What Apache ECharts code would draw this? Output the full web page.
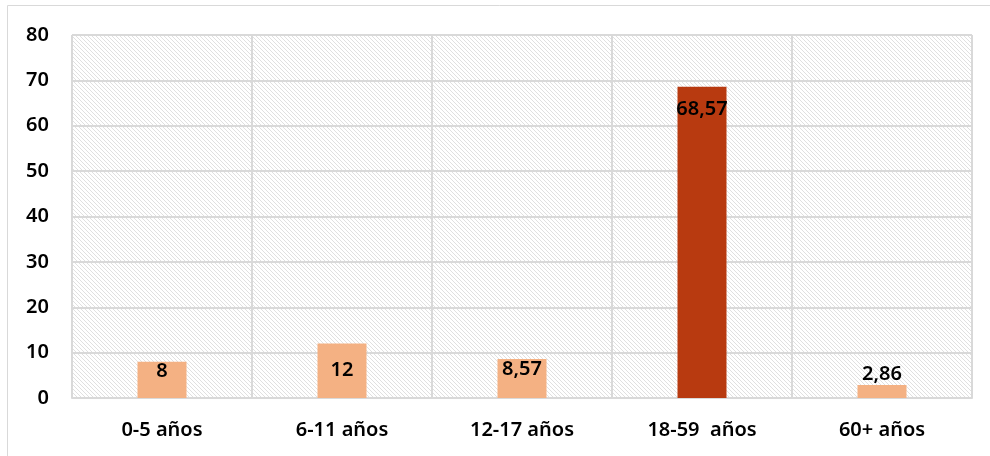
<!DOCTYPE html>
<html>
<head>
<meta charset="utf-8">
<script src="https://cdn.jsdelivr.net/npm/echarts@6/dist/echarts.min.js"></script>
<style>
  html, body { margin: 0; padding: 0; background: #fff; }
  #chart { width: 990px; height: 456px; }
</style>
</head>
<body>
<div id="chart"></div>
<script>
// datos
const categories = ["0-5 años", "6-11 años", "12-17 años", "18-59  años", "60+ años"];
const values = [8, 12, 8.57, 68.57, 2.86];
const yTicks = [0, 10, 20, 30, 40, 50, 60, 70, 80];

// fondo rayado del área de trazado
function hatch() {
  const c = document.createElement("canvas");
  c.width = 4;
  c.height = 4;
  const ctx = c.getContext("2d");
  ctx.fillStyle = "#fff";
  ctx.fillRect(0, 0, 4, 4);
  ctx.fillStyle = "#e0e0e0";
  for (let i = 0; i < 4; i++) ctx.fillRect(i, i, 1, 1);
  return c;
}

const fmt = (v) => String(v).replace(".", ",");

const labelFor = (i) => {
  const base = { show: true, color: "#000", fontSize: 20, fontWeight: 600, fontFamily: "Noto Sans", formatter: (p) => fmt(p.value) };
  if (i === 1) return Object.assign(base, { position: "inside" });
  if (i === 3) return Object.assign(base, { position: "insideTop", distance: 12 });
  if (i === 4) return Object.assign(base, { position: "top", distance: 1 });
  return Object.assign(base, { position: "insideTop", distance: 0 });
};

const myChart = echarts.init(document.getElementById("chart"));
const option = {
  animation: false,
  graphic: [
    {
      type: "rect",
      shape: { x: 7.5, y: 5.5, width: 990, height: 460 },
      style: { fill: "none", stroke: "#d9d9d9", lineWidth: 1 },
      silent: true,
    },
  ],
  grid: {
    left: 72,
    right: 18,
    top: 35,
    bottom: 58,
    show: true,
    backgroundColor: { image: hatch(), repeat: "repeat" },
    borderColor: "#d9d9d9",
    borderWidth: 1,
  },
  xAxis: {
    type: "category",
    data: categories,
    axisLine: { lineStyle: { color: "#d9d9d9", width: 2 } },
    axisTick: { show: false },
    splitLine: { show: true, lineStyle: { color: "#d9d9d9", width: 2 } },
    axisLabel: { color: "#000", fontSize: 20, fontWeight: 600, fontFamily: "Noto Sans", margin: 22 },
  },
  yAxis: {
    type: "value",
    min: yTicks[0],
    max: yTicks[yTicks.length - 1],
    interval: 10,
    axisLine: { show: false },
    axisTick: { show: false },
    splitLine: { lineStyle: { color: "#d9d9d9", width: 2 } },
    axisLabel: { color: "#000", fontSize: 20, fontWeight: 600, fontFamily: "Noto Sans", margin: 23 },
  },
  series: [
    {
      type: "bar",
      barWidth: 49,
      data: values.map((v, i) => ({
        value: v,
        itemStyle: { color: i === 3 ? "#b83a10" : "#f4b183" },
        label: labelFor(i),
      })),
    },
  ],
};
myChart.setOption(option);
</script>
</body>
</html>
